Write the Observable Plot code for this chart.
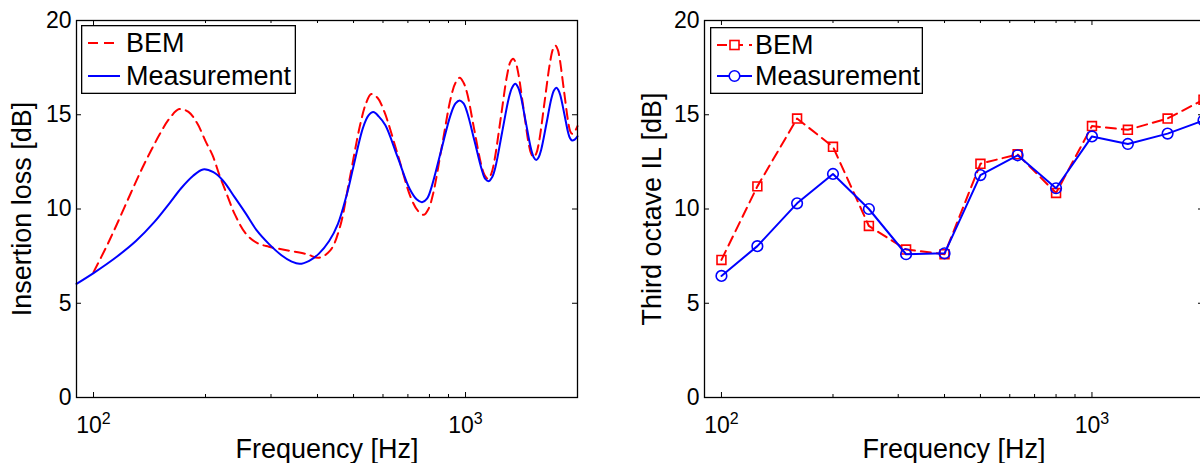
<!DOCTYPE html>
<html><head><meta charset="utf-8">
<script src="https://cdn.jsdelivr.net/npm/d3@7"></script>
<script src="https://cdn.jsdelivr.net/npm/@observablehq/plot@0.6"></script>
<style>
html,body{margin:0;padding:0;background:#fff;overflow:hidden;}
#wrap{position:relative;width:1200px;height:463px;overflow:hidden;font-family:"Liberation Sans",Arial,Helvetica,sans-serif;}
.panel{position:absolute;top:0;}
.legend{position:absolute;}
</style></head>
<body><div id="wrap"></div>
<script>
// ---------- Data: left panel (narrow-band insertion loss) ----------
const bemFreq = [100,108,115,126,137,151,160,170,180,190,200,209,218,228,240,257,275,296,333,375,403,433,459,487,520,540,558,580,605,657,712,745,773,795,817,864,913,940,965,988,1009,1054,1101,1125,1150,1172,1195,1243,1292,1320,1343,1365,1386,1431,1477,1500,1525,1550,1578,1632,1688,1720,1746,1770,1791,1838,1886,1910,1934,1965,2000];
const bemIL = [6.65,7.95,9.1,10.85,12.4,14.0,14.8,15.3,15.15,14.55,13.6,12.84,11.8,10.8,9.7,8.68,8.2,8.0,7.8,7.6,7.41,7.8,9.0,11.5,14.4,15.6,16.1,15.9,15.16,12.9,10.63,9.9,9.69,10.0,10.75,13.33,15.9,16.7,16.96,16.7,16.18,14.28,12.38,11.8,11.6,11.85,12.53,14.79,17.04,17.8,17.97,17.75,17.21,15.36,13.51,12.95,12.75,12.95,13.62,15.71,17.8,18.5,18.67,18.45,17.98,16.33,14.68,14.15,13.99,14.1,14.4];
const measFreq = [90,100,115,130,145.6,160,172,185,197,210,223,240,257,275,296,320,341,358,380,403,430,454,480,499,530,548,565,585,609,657,708,740,764,788,810,859,911,940,965,988,1010,1057,1105,1130,1156,1180,1204,1254,1307,1335,1361,1385,1406,1452,1500,1525,1549,1573,1598,1650,1702,1730,1756,1778,1799,1844,1888,1910,1934,1965,2000];
const measIL = [6.03,6.6,7.44,8.3,9.3,10.3,11.1,11.75,12.1,11.95,11.5,10.6,9.74,8.85,8.15,7.55,7.21,7.09,7.25,7.62,8.3,9.21,10.8,12.2,14.3,14.95,15.14,14.9,14.44,12.75,11.06,10.5,10.36,10.55,11.15,13.06,14.97,15.6,15.76,15.6,15.13,13.62,12.11,11.6,11.48,11.7,12.24,14.06,15.88,16.45,16.64,16.45,16.05,14.62,13.19,12.75,12.6,12.75,13.16,14.52,15.87,16.3,16.43,16.3,16.02,15.03,14.04,13.75,13.63,13.68,13.85];

// ---------- Data: right panel (third-octave IL) ----------
const octFreq = [100,125,160,200,250,315,400,500,630,800,1000,1250,1600,2000];
const octBEM  = [7.3,11.2,14.8,13.3,9.1,7.85,7.6,12.4,12.9,10.85,14.4,14.2,14.8,15.8];
const octMeas = [6.45,8.03,10.3,11.86,10.0,7.6,7.65,11.8,12.85,11.1,13.85,13.45,14.0,14.7];

// ---------- Axis ticks / labels ----------
const yTicks = [0,5,10,15,20];
const xMajor = [100,1000];
const xMinor = [200,300,400,500,600,700,800,900];
const xDomain = [90,2000];
const yDomain = [0,20];
const leftYLabel = "Insertion loss [dB]";
const rightYLabel = "Third octave IL [dB]";
const xLabel = "Frequency [Hz]";
const seriesNames = ["BEM","Measurement"];

const RED = "#ff0000", BLUE = "#0000ff";
const FONT = '"Liberation Sans", Arial, Helvetica, sans-serif';
const H = 463, MT = 20, MB = 66;

function frameTicks(plotW, plotH) {
  return [
    Plot.tickY(yTicks, {y: d => d, insetRight: plotW - 5, stroke: "black"}),
    Plot.tickY(yTicks, {y: d => d, insetLeft: plotW - 5, stroke: "black"}),
    Plot.tickX(xMajor, {x: d => d, insetTop: plotH - 5, stroke: "black"}),
    Plot.tickX(xMajor, {x: d => d, insetBottom: plotH - 5, stroke: "black"}),
    Plot.tickX(xMinor, {x: d => d, insetTop: plotH - 3, stroke: "black"}),
    Plot.tickX(xMinor, {x: d => d, insetBottom: plotH - 3, stroke: "black"})
  ];
}

function makePanel({width, ml, mr, ylabel, ylabelDx, marks}) {
  const plotW = width - ml - mr, plotH = H - MT - MB;
  const chart = Plot.plot({
    width, height: H, marginLeft: ml, marginRight: mr, marginTop: MT, marginBottom: MB,
    style: {fontSize: "23px", fontFamily: FONT, color: "black", background: "white", overflow: "visible"},
    x: {type: "log", domain: xDomain},
    y: {domain: yDomain},
    marks: [
      Plot.axisY(yTicks, {tickSize: 0, tickPadding: 5, label: null, fontSize: 23}),
      Plot.axisX(xMajor, {tickSize: 0, tickPadding: 19, label: null, fontSize: 23,
        tickFormat: d => "10^" + Math.round(Math.log10(d))}),
      ...marks,
      ...frameTicks(plotW, plotH),
      Plot.frame({stroke: "black", strokeWidth: 1.3}),
      Plot.text([ylabel], {frameAnchor: "left", dx: ylabelDx, rotate: -90, textAnchor: "middle", lineAnchor: "middle", fontSize: 27, fill: "black"}),
      Plot.text([xLabel], {frameAnchor: "bottom", dy: 52, textAnchor: "middle", lineAnchor: "middle", fontSize: 27, fill: "black"})
    ]
  });
  chart.querySelectorAll('[aria-label="x-axis tick label"] text').forEach(t => {
    const s = t.textContent;
    const [b, e] = s.split("^");
    t.textContent = b;
    const ts = document.createElementNS("http://www.w3.org/2000/svg", "tspan");
    ts.setAttribute("dy", "-0.55em");
    ts.setAttribute("font-size", "16");
    ts.textContent = e;
    t.appendChild(ts);
  });
  return chart;
}

const wrap = document.getElementById("wrap");

const bemData = bemFreq.map((f, i) => ({f, v: bemIL[i]}));
const measData = measFreq.map((f, i) => ({f, v: measIL[i]}));
const left = makePanel({
  width: 600, ml: 76, mr: 23, ylabel: leftYLabel, ylabelDx: -54,
  marks: [
    Plot.line(bemData, {x: "f", y: "v", stroke: RED, strokeWidth: 2, strokeDasharray: "10,6", curve: "catmull-rom"}),
    Plot.line(measData, {x: "f", y: "v", stroke: BLUE, strokeWidth: 2, curve: "catmull-rom"})
  ]
});
left.classList.add("panel");
left.style.left = "0px";
wrap.appendChild(left);

const octB = octFreq.map((f, i) => ({f, v: octBEM[i]}));
const octM = octFreq.map((f, i) => ({f, v: octMeas[i]}));
const right = makePanel({
  width: 604, ml: 104, mr: 1, ylabel: rightYLabel, ylabelDx: -52,
  marks: [
    Plot.line(octB, {x: "f", y: "v", stroke: RED, strokeWidth: 2, strokeDasharray: "10,6"}),
    Plot.dot(octB, {x: "f", y: "v", symbol: "square", r: 5, stroke: RED, strokeWidth: 1.6, fill: "none"}),
    Plot.line(octM, {x: "f", y: "v", stroke: BLUE, strokeWidth: 2}),
    Plot.dot(octM, {x: "f", y: "v", symbol: "circle", r: 5.3, stroke: BLUE, strokeWidth: 1.6, fill: "none"})
  ]
});
right.classList.add("panel");
right.style.left = "600px";
wrap.appendChild(right);

// ---------- Legends (inside plot areas) ----------
function legend(x, y, w, h, rows, withMarkers) {
  const ns = "http://www.w3.org/2000/svg";
  const svg = document.createElementNS(ns, "svg");
  svg.setAttribute("width", w); svg.setAttribute("height", h);
  svg.setAttribute("class", "legend");
  svg.style.left = x + "px"; svg.style.top = y + "px";
  let html = `<rect x="0.65" y="0.65" width="${w - 1.3}" height="${h - 1.3}" fill="white" stroke="black" stroke-width="1.3"/>`;
  rows.forEach((r, i) => {
    const cy = r.cy;
    html += `<line x1="7" x2="${withMarkers ? 42 : 39}" y1="${cy}" y2="${cy}" stroke="${r.color}" stroke-width="2" ${r.dash ? 'stroke-dasharray="10,6"' : ''}/>`;
    if (withMarkers) {
      if (r.marker === "square") html += `<rect x="${24.5 - 4.5}" y="${cy - 4.5}" width="9" height="9" fill="white" stroke="${r.color}" stroke-width="1.6"/>`;
      else html += `<circle cx="24.5" cy="${cy}" r="5.3" fill="white" stroke="${r.color}" stroke-width="1.6"/>`;
    }
    html += `<text x="45" y="${cy}" dy="0.35em" font-size="27" font-family='${FONT}' fill="black">${r.name}</text>`;
  });
  svg.innerHTML = html;
  wrap.appendChild(svg);
}
legend(81, 25, 215, 69, [
  {name: seriesNames[0], color: RED, dash: true, cy: 18},
  {name: seriesNames[1], color: BLUE, dash: false, cy: 51}
], false);
legend(710, 27, 213, 67, [
  {name: seriesNames[0], color: RED, dash: true, cy: 18, marker: "square"},
  {name: seriesNames[1], color: BLUE, dash: false, cy: 49, marker: "circle"}
], true);
</script>
</body></html>
